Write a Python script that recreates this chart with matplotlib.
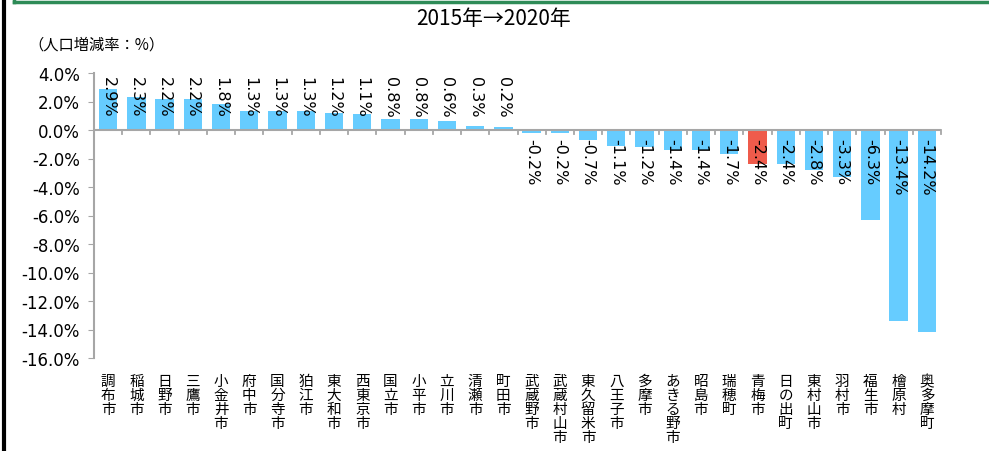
import matplotlib
matplotlib.use('Agg')
import matplotlib.pyplot as plt
from matplotlib.lines import Line2D
import numpy as np

plt.rcParams['font.family'] = ['Noto Sans CJK JP', 'DejaVu Sans']

names = ['調布市', '稲城市', '日野市', '三鷹市', '小金井市', '府中市', '国分寺市', '狛江市',
         '東大和市', '西東京市', '国立市', '小平市', '立川市', '清瀬市', '町田市', '武蔵野市',
         '武蔵村山市', '東久留米市', '八王子市', '多摩市', 'あきる野市', '昭島市', '瑞穂町',
         '青梅市', '日の出町', '東村山市', '羽村市', '福生市', '檜原村', '奥多摩町']
rates = [2.9, 2.3, 2.2, 2.2, 1.8, 1.3, 1.3, 1.3, 1.2, 1.1, 0.8, 0.8, 0.6, 0.3, 0.2,
         -0.2, -0.2, -0.7, -1.1, -1.2, -1.4, -1.4, -1.7, -2.4, -2.4, -2.8, -3.3, -6.3,
         -13.4, -14.2]
highlight = '青梅市'
yticks = [4, 2, 0, -2, -4, -6, -8, -10, -12, -14, -16]

blue = '#66ccff'
red = '#ef5b4b'
grey = '#a6a6a6'

fig = plt.figure(figsize=(9.89, 4.52), dpi=100)
ax = fig.add_axes([94/989, 1 - 359/452, (941 - 94)/989, (359 - 74)/452])

x = np.arange(len(names))
colors = [red if n == highlight else blue for n in names]
ax.bar(x, rates, width=0.65, color=colors, zorder=2)

ax.set_xlim(-0.5, len(names) - 0.5)
ax.set_ylim(-16, 4)
ax.set_yticks(yticks)
ax.set_yticklabels(['%.1f%%' % v for v in yticks], family='DejaVu Sans', fontsize=12)
ax.tick_params(axis='y', length=4, color=grey, pad=6)

for s in ['top', 'right', 'bottom']:
    ax.spines[s].set_visible(False)
ax.spines['left'].set_color(grey)
ax.spines['left'].set_linewidth(1.5)

# x axis drawn at zero with ticks between categories
ax.axhline(0, color=grey, lw=1.5, zorder=3)
ax.set_xticks([])
for b in np.arange(-0.5, len(names), 1.0):
    ax.plot([b, b], [0, -0.3], color=grey, lw=1.3, zorder=3, clip_on=False)

# data labels
for i, v in enumerate(rates):
    ypos = 3.8 if v >= 0 else -0.55
    ax.text(i, ypos, '%.1f%%' % v, rotation=-90, ha='center', va='top',
            fontsize=11.5, family='DejaVu Sans', zorder=4)

# vertical category names
for i, n in enumerate(names):
    ax.text(i, -0.055, '\n'.join(n), transform=ax.get_xaxis_transform(),
            ha='center', va='top', fontsize=10.5, linespacing=1.0)

fig.text(494/989, 1 - 19/452, '2015年→2020年', ha='center', va='center', fontsize=15)
fig.text(28/989, 1 - 45/452, '（人口増減率：%）', ha='left', va='center', fontsize=11)

# frame lines
fig.add_artist(Line2D([4/989, 4/989], [0, 1], color='black', lw=3))
fig.add_artist(Line2D([14/989, 1], [1 - 3/452, 1 - 3/452], color='#2e8b57', lw=2.5))
fig.add_artist(Line2D([14/989, 14/989], [1 - 3/452, 1], color='#2e8b57', lw=2.5))

fig.savefig('out.png', dpi=100)
